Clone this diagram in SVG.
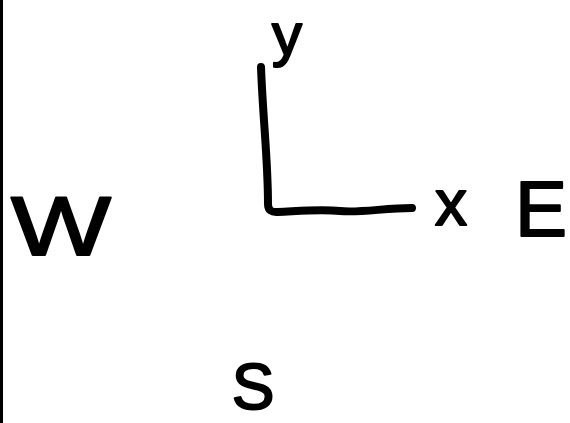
<svg xmlns="http://www.w3.org/2000/svg" width="570" height="423" viewBox="0 0 570 423">
<style>
.lbl{font-family:"Liberation Sans","DejaVu Sans",sans-serif;fill:#000;stroke:#000;stroke-width:2;stroke-linejoin:round}
.stroke{fill:none;stroke:#000;stroke-width:8;stroke-linecap:round;stroke-linejoin:round}
</style>
<rect width="570" height="423" fill="#fff"/>
<g id="border"><line x1="1.5" y1="0" x2="1.5" y2="423" stroke="#000" stroke-width="3"/></g>
<g id="connectors">
<path class="stroke" d="M261,67 C263,120 268,160 268,204 Q268,213 278,212 C300,211 320,209 340,211 C360,213 385,208 412,208"/>
</g>
<g id="west"><text class="lbl" x="11" y="255" font-size="84" textLength="100" lengthAdjust="spacingAndGlyphs">W</text></g>
<g id="y-label"><text class="lbl" x="287" y="55" font-size="60" text-anchor="middle">y</text></g>
<g id="x-label"><text class="lbl" x="451" y="225" font-size="64" text-anchor="middle">x</text></g>
<g id="east"><text class="lbl" x="541" y="236" font-size="78" text-anchor="middle">E</text></g>
<g id="south"><text class="lbl" x="253" y="409" font-size="64" text-anchor="middle">S</text></g>
</svg>
